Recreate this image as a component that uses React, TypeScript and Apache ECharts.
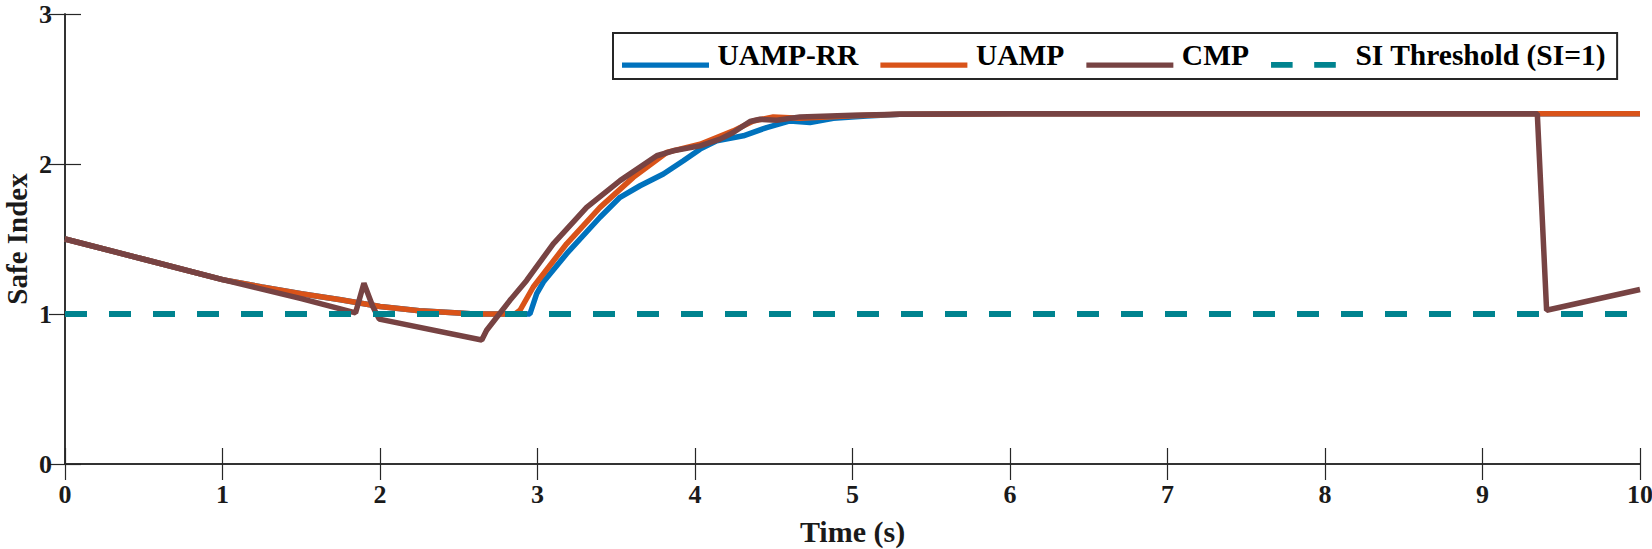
import React, { useEffect, useRef } from 'react';
import * as echarts from 'echarts';

// ---- data ----
const T_UAMP_RR = [0, 0.5, 1, 1.25, 1.5, 1.75, 2.0, 2.25, 2.5, 2.6, 2.952, 2.995, 3.037, 3.185, 3.397, 3.524, 3.651, 3.799, 3.926, 4.032, 4.138, 4.307, 4.455, 4.603, 4.73, 4.878, 5.09, 5.3, 6, 10];
const V_UAMP_RR = [1.5, 1.365, 1.229, 1.18, 1.135, 1.095, 1.05, 1.022, 1.007, 1.0, 1.0, 1.136, 1.213, 1.402, 1.645, 1.778, 1.855, 1.933, 2.022, 2.099, 2.154, 2.188, 2.243, 2.287, 2.276, 2.305, 2.32, 2.332, 2.335, 2.335];

const T_UAMP = [0, 0.5, 1, 1.25, 1.5, 1.75, 2.0, 2.25, 2.5, 2.6, 2.857, 2.889, 2.973, 3.185, 3.397, 3.608, 3.82, 4.032, 4.243, 4.37, 4.497, 4.667, 5.0, 5.3, 6, 10];
const V_UAMP = [1.5, 1.365, 1.229, 1.18, 1.135, 1.095, 1.05, 1.022, 1.007, 1.0, 1.0, 1.025, 1.18, 1.468, 1.711, 1.911, 2.077, 2.132, 2.221, 2.287, 2.314, 2.305, 2.322, 2.332, 2.335, 2.335];

const T_CMP = [0, 0.5, 1, 1.5, 1.845, 1.898, 1.954, 1.995, 2.646, 2.677, 2.825, 2.931, 3.1, 3.312, 3.524, 3.757, 3.862, 4.032, 4.159, 4.243, 4.349, 4.413, 4.519, 4.667, 5.0, 5.3, 6, 9.348, 9.407, 10];
const V_CMP = [1.5, 1.365, 1.229, 1.103, 1.008, 1.205, 1.05, 0.966, 0.827, 0.892, 1.091, 1.224, 1.468, 1.711, 1.889, 2.055, 2.088, 2.121, 2.166, 2.21, 2.283, 2.298, 2.292, 2.314, 2.325, 2.332, 2.335, 2.335, 1.025, 1.163];

const T_THRESHOLD = [0, 10];
const V_THRESHOLD = [1, 1];

const X_TICKS = { min: 0, max: 10, interval: 1 };
const Y_TICKS = { min: 0, max: 3, interval: 1 };

const LEGEND_NAMES = ['UAMP-RR', 'UAMP', 'CMP', 'SI Threshold (SI=1)'];

const zip = (t: number[], v: number[]) => t.map((x, i) => [x, v[i]]);

const FONT = '"Liberation Serif", "Times New Roman", serif';
const AXIS_COLOR = '#262626';

// legend icons: a line sitting low in a 88x26 box (tiny corner squares fix the box)
const ICON_SOLID = 'path://M0,0h0.01v0.01h-0.01z M0,20.9h88v5.4h-88z M0,25.99h0.01v0.01h-0.01z';
const ICON_DASHED = 'path://M0,0h0.01v0.01h-0.01z M0,20.7h22v5.8h-22z M44,20.7h22v5.8h-22z M0,25.99h0.01v0.01h-0.01z';

export default function App() {
  const ref = useRef<HTMLDivElement>(null);
  useEffect(() => {
    const chart = echarts.init(ref.current!, null, { renderer: 'svg' });
    const tickLabel = { color: '#1a1a1a', fontFamily: FONT, fontWeight: 'bold' as const, fontSize: 26 };
    const axisLine = { show: true, lineStyle: { color: AXIS_COLOR, width: 1.5 } };
    const axisTick = { show: true, inside: true, length: 16, lineStyle: { color: AXIS_COLOR, width: 1.2 } };
    const option: any = {
      animation: false,
      backgroundColor: '#ffffff',
      grid: { left: 65, right: 12, top: 14, bottom: 85, outerBoundsMode: 'none', containLabel: false },
      xAxis: [
        {
          type: 'value', ...X_TICKS, position: 'bottom',
          axisLine, axisTick, splitLine: { show: false },
          axisLabel: { ...tickLabel, margin: 17 },
          name: 'Time (s)', nameLocation: 'middle', nameGap: 52, nameMoveOverlap: false,
          nameTextStyle: { color: '#1a1a1a', fontFamily: FONT, fontWeight: 'bold', fontSize: 30 },
        },
        {
          type: 'value', ...X_TICKS, position: 'top',
          axisLine, axisTick, splitLine: { show: false }, axisLabel: { show: false },
        },
      ],
      yAxis: [
        {
          type: 'value', ...Y_TICKS, position: 'left',
          axisLine, axisTick, splitLine: { show: false },
          axisLabel: { ...tickLabel, margin: 13 },
          name: 'Safe Index', nameLocation: 'middle', nameGap: 37, nameRotate: 90, nameMoveOverlap: false,
          nameTextStyle: { color: '#1a1a1a', fontFamily: FONT, fontWeight: 'bold', fontSize: 29, lineHeight: 22 },
        },
        {
          type: 'value', ...Y_TICKS, position: 'right',
          axisLine, axisTick, splitLine: { show: false }, axisLabel: { show: false },
        },
      ],
      legend: {
        left: 613, top: 33,
        orient: 'horizontal',
        itemWidth: 88, itemHeight: 26, itemGap: 22,
        padding: [6.8, 11, 9.2, 9],
        borderColor: AXIS_COLOR, borderWidth: 2, backgroundColor: '#ffffff',
        formatter: (name: string) => `{t|${name}}`,
        textStyle: {
          color: '#000', fontFamily: FONT, fontWeight: 'bold', fontSize: 29.5,
          rich: { t: { color: '#000', fontFamily: FONT, fontWeight: 'bold', fontSize: 29.5, padding: [0, 0, 0, 3] } },
        },
        data: LEGEND_NAMES.map((name, i) => ({ name, icon: i === 3 ? ICON_DASHED : ICON_SOLID })),
      },
      series: [
        { name: 'UAMP-RR', type: 'line', data: zip(T_UAMP_RR, V_UAMP_RR), showSymbol: false, symbol: 'none', color: '#0072BD', lineStyle: { width: 5.5, color: '#0072BD' } },
        { name: 'UAMP', type: 'line', data: zip(T_UAMP, V_UAMP), showSymbol: false, symbol: 'none', color: '#D95319', lineStyle: { width: 5.5, color: '#D95319' } },
        { name: 'CMP', type: 'line', data: zip(T_CMP, V_CMP), showSymbol: false, symbol: 'none', color: '#774343', lineStyle: { width: 5.5, color: '#774343' } },
        { name: 'SI Threshold (SI=1)', type: 'line', data: zip(T_THRESHOLD, V_THRESHOLD), showSymbol: false, symbol: 'none', color: '#00838F', lineStyle: { width: 6, color: '#00838F', type: [22, 22] } },
      ],
    };
    chart.setOption(option);
    return () => chart.dispose();
  }, []);
  return <div ref={ref} style={{ position: 'absolute', left: 0, top: 0, width: 1652, height: 549 }} />;
}
